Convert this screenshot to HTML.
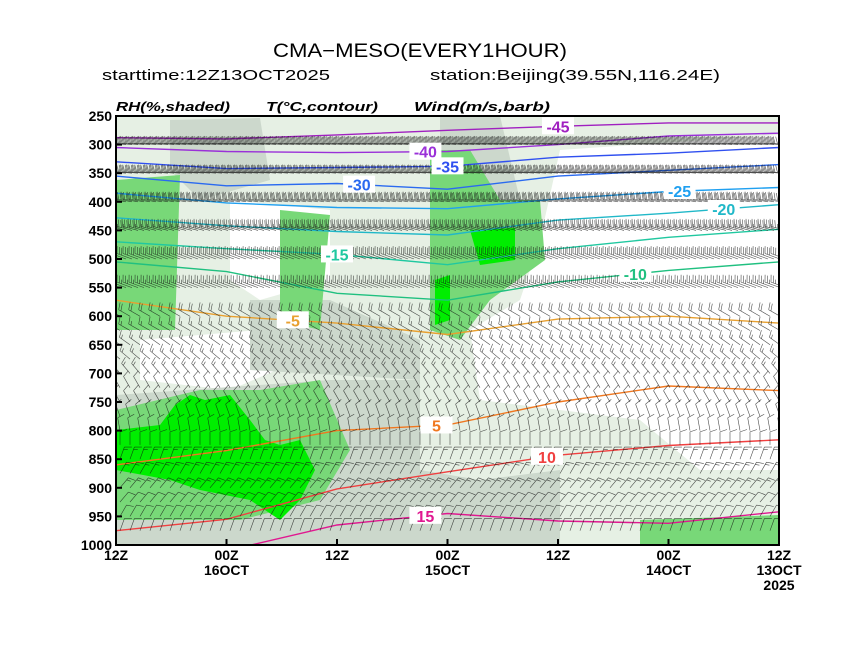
<!DOCTYPE html>
<html><head><meta charset="utf-8"><style>
html,body{margin:0;padding:0;background:#fff;}
svg{display:block;}
text{font-family:"Liberation Sans",sans-serif;}
</style></head><body>
<svg id="chart" width="859" height="664" viewBox="0 0 859 664" xmlns="http://www.w3.org/2000/svg">
<text x="273" y="57" font-size="19" textLength="294" lengthAdjust="spacingAndGlyphs">CMA−MESO(EVERY1HOUR)</text>
<text x="102" y="80" font-size="15" textLength="228" lengthAdjust="spacingAndGlyphs">starttime:12Z13OCT2025</text>
<text x="430" y="80" font-size="15" textLength="290" lengthAdjust="spacingAndGlyphs">station:Beijing(39.55N,116.24E)</text>
<text x="116" y="111" font-size="13" font-weight="bold" font-style="italic" textLength="114" lengthAdjust="spacingAndGlyphs" font-family="Liberation Serif, serif">RH(%,shaded)</text>
<text x="266" y="111" font-size="13" font-weight="bold" font-style="italic" textLength="112" lengthAdjust="spacingAndGlyphs" font-family="Liberation Serif, serif">T(°C,contour)</text>
<text x="414" y="111" font-size="13" font-weight="bold" font-style="italic" textLength="136" lengthAdjust="spacingAndGlyphs" font-family="Liberation Serif, serif">Wind(m/s,barb)</text>
<defs><clipPath id="plotclip"><rect x="116" y="116" width="663" height="429"/></clipPath></defs>
<g id="plot" clip-path="url(#plotclip)">
<rect x="116" y="116" width="663" height="429" fill="#ffffff"/>
<g id="shading"></g>
<g id="contours"></g>
<g id="barbs"></g>
<g id="clabels"></g>
</g>
<rect x="116" y="116" width="663" height="429" fill="none" stroke="#000" stroke-width="2"/>
<g id="axes"></g>
</svg>
<script>
// ---- data ----
const pressureTicks=[250,300,350,400,450,500,550,600,650,700,750,800,850,900,950,1000];
const timeTicks=["12Z","00Z","12Z","00Z","12Z","00Z","12Z"];
const timeTicks2=["","16OCT","","15OCT","","14OCT","13OCT"];
const timeTicks3=["","","","","","","2025"];
const contourValues=[-45,-40,-35,-30,-25,-20,-15,-10,-5,5,10,15];
const cM45=[288,290,283,275,268,262,262];
const cM40=[305,312,314,312,300,285,280];
const cM35=[330,342,340,338,322,315,305];
const cM30=[355,372,368,378,355,345,335];
const cM25=[385,402,410,412,395,382,375];
const cM20=[428,442,452,458,432,420,405];
const cM15=[470,482,492,510,482,462,448];
const cM10=[505,522,560,572,540,520,505];
const cM5=[572,600,612,632,605,600,612];
const cP5=[860,835,800,790,750,722,730];
const cP10=[975,955,902,872,843,826,816];
const cP15=[1010,1010,965,945,958,962,942];
const contourSeries=[cM45,cM40,cM35,cM30,cM25,cM20,cM15,cM10,cM5,cP5,cP10,cP15];
const contourColors=["#a020c0","#9a30d8","#3050f0","#2a6af0","#20a0f0","#20b8c8","#20c8a0","#20c080","#e8a030","#f07820","#f04040","#e01890"];
const barbLevels=[300,350,400,450,500,550,600,625,650,675,700,725,750,775,800,825,850,875,900,925,950,975];
const barbSpeed=[40,36,32,26,22,18,14,12,12,10,10,8,8,8,8,8,10,10,10,8,8,6];
const barbDir=[275,275,280,285,290,290,300,300,305,310,320,330,330,340,350,360,20,30,40,40,30,20];

const W=663,X0=116,Y0=116,H=429;
const xScale=i=>X0+i*W/6;
const yScale=p=>Y0+(p-250)/750*H;
const NS="http://www.w3.org/2000/svg";
function mk(tag,attrs,parent){const e=document.createElementNS(NS,tag);for(const k in attrs)e.setAttribute(k,attrs[k]);parent.appendChild(e);return e;}

const sh=document.getElementById('shading');
const shapes=[
 ["rh-50-70-region-top","#e6f0e4","116,116 779,116 779,545 116,545"],
 ["rh-white-region-right","#ffffff","560,150 779,135 779,470 700,470 640,420 560,410 480,400 470,330 520,300 540,240"],
 ["rh-white-region-mid","#ffffff","230,200 330,210 330,280 260,300 230,280"],
 ["rh-white-region-mid2","#ffffff","140,340 260,330 300,360 230,390 140,380"],
 ["rh-grey-region-1","#ccd8cc","116,395 330,380 420,380 420,470 480,480 560,470 560,545 116,545"],
 ["rh-grey-region-2","#ccd8cc","250,300 330,300 420,340 420,380 250,370"],
 ["rh-grey-region-3","#ccd8cc","170,120 260,118 270,180 200,200 170,170"],
 ["rh-grey-region-4","#ccd8cc","440,116 500,116 520,200 480,260 440,250"],
 ["rh-green-region-1","#78d878","116,180 180,175 175,330 116,330"],
 ["rh-green-region-2","#78d878","280,210 330,215 320,330 280,320"],
 ["rh-green-region-3","#78d878","430,150 470,150 500,200 540,200 545,260 490,300 460,340 430,330"],
 ["rh-green-region-4","#78d878","116,410 200,390 260,390 320,380 350,450 320,500 240,520 116,520"],
 ["rh-bright-green-1","#00ee00","116,430 160,425 175,405 190,395 205,400 230,395 250,420 265,440 280,445 300,440 315,470 300,500 280,520 250,500 200,490 170,480 116,470"],
 ["rh-bright-green-2","#00ee00","470,230 515,228 515,260 480,265"],
 ["rh-bright-green-3","#00ee00","435,280 450,275 450,320 435,325"],
 ["rh-green-region-5","#78d878","640,520 779,515 779,545 640,545"]
];
shapes.forEach(s=>{const e=mk('polygon',{points:s[2],fill:s[1]},sh);

});

const cg=document.getElementById('contours');
const lg=document.getElementById('clabels');
const labelPos=[4.0,2.8,3.0,2.2,5.1,5.5,2.0,4.7,1.6,2.9,3.9,2.8];
contourSeries.forEach((arr,ci)=>{
 let d='';
 arr.forEach((p,i)=>{d+=(i?'L':'M')+xScale(i).toFixed(1)+','+yScale(p).toFixed(1);});
 const e=mk('path',{d:d,fill:'none',stroke:contourColors[ci],'stroke-width':1.4},cg);
 
 
 const t=labelPos[ci];const i0=Math.floor(t),f=t-i0;
 const p=arr[i0]+(arr[Math.min(i0+1,6)]-arr[i0])*f;
 const lx=X0+t*W/6,ly=yScale(p);
 const r=mk('rect',{x:lx-16,y:ly-9,width:32,height:17,fill:'#fff'},lg);
 
 
 const tx=mk('text',{x:lx,y:ly+6,'text-anchor':'middle','font-size':16,'font-weight':'bold',fill:contourColors[ci]},lg);
 
 
 tx.textContent=(contourValues[ci]<0?'-':'')+Math.abs(contourValues[ci]);
});

const bg=document.getElementById('barbs');
barbLevels.forEach((lev,li)=>{
 const y=yScale(lev);const spd=barbSpeed[li];const dir=barbDir[li]*Math.PI/180;
 const step=lev<=550?6:10;
 const L=lev<=550?16:13;
 const dx=Math.sin(dir),dy=-Math.cos(dir);
 const fx=-dy+dx*0.35,fy=dx+dy*0.35;
 let d='';
 for(let x=X0+4;x<X0+W+10;x+=step){
  const ex=x+dx*L,ey=y+dy*L;
  d+='M'+x.toFixed(1)+','+y.toFixed(1)+'L'+ex.toFixed(1)+','+ey.toFixed(1);
  let n=Math.round(spd/4);let pos=0;
  while(n>0){
   const len=n>=2?7:4;
   const bx=ex-dx*pos,by=ey-dy*pos;
   d+='M'+bx.toFixed(1)+','+by.toFixed(1)+'L'+(bx+fx*len).toFixed(1)+','+(by+fy*len).toFixed(1);
   n-=2;pos+=2.5;
  }
 }
 const e=mk('path',{d:d,fill:'none',stroke:'#111','stroke-width':0.6,'stroke-opacity':0.75},bg);
 
 
});

const ax=document.getElementById('axes');
pressureTicks.forEach(p=>{
 const y=yScale(p);
 const tk=mk('line',{x1:X0,x2:X0+6,y1:y,y2:y,stroke:'#000','stroke-width':2},ax);
 
 
 const t=mk('text',{x:X0-4,y:y+5,'text-anchor':'end','font-size':14,'font-weight':'bold'},ax);
 
 
 t.textContent=p;
});
timeTicks.forEach((lab,i)=>{
 const x=xScale(i);
 const tk=mk('line',{x1:x,x2:x,y1:Y0+H-6,y2:Y0+H,stroke:'#000','stroke-width':2},ax);
 
 
 [lab,timeTicks2[i],timeTicks3[i]].forEach((s,k)=>{
  if(!s)return;
  const t=mk('text',{x:x,y:Y0+H+15+k*15,'text-anchor':'middle','font-size':14,'font-weight':'bold'},ax);
  
  
  t.textContent=s;
 });
});
</script>
</body></html>
